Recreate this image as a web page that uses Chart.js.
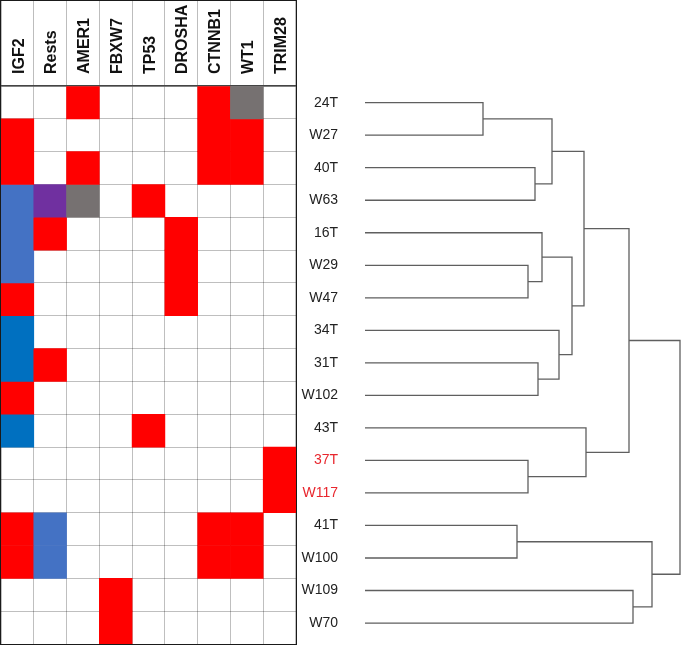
<!DOCTYPE html>
<html>
<head>
<meta charset="utf-8">
<script src="https://cdn.jsdelivr.net/npm/chart.js@4"></script>
<style>
  body { margin: 0; background: #fff; }
  #wrap { position: relative; width: 681px; height: 645px; }
  #heat { position: absolute; left: 0; top: 0; width: 297px; height: 645px; box-sizing: border-box; border: 1.5px solid #1a1a1a; }
  #tree { position: absolute; left: 297px; top: 0; width: 384px; height: 645px; }
</style>
</head>
<body>
<div id="wrap">
  <div id="heat"><canvas id="heatCanvas"></canvas></div>
  <div id="tree"><canvas id="treeCanvas"></canvas></div>
</div>
<script>
/* heatmap des altérations + dendrogramme, deux canvas côte à côte */

const genes = ["IGF2", "Rests", "AMER1", "FBXW7", "TP53", "DROSHA", "CTNNB1", "WT1", "TRIM28"];

const samples = ["24T", "W27", "40T", "W63", "16T", "W29", "W47", "34T", "31T",
  "W102", "43T", "37T", "W117", "41T", "W100", "W109", "W70"];

const redSamples = ["37T", "W117"];

// 0 vide, 1 rouge, 2 bleu, 3 bleu foncé, 4 violet, 5 gris
const cells = [
  [0, 0, 1, 0, 0, 0, 1, 5, 0],
  [1, 0, 0, 0, 0, 0, 1, 1, 0],
  [1, 0, 1, 0, 0, 0, 1, 1, 0],
  [2, 4, 5, 0, 1, 0, 0, 0, 0],
  [2, 1, 0, 0, 0, 1, 0, 0, 0],
  [2, 0, 0, 0, 0, 1, 0, 0, 0],
  [1, 0, 0, 0, 0, 1, 0, 0, 0],
  [3, 0, 0, 0, 0, 0, 0, 0, 0],
  [3, 1, 0, 0, 0, 0, 0, 0, 0],
  [1, 0, 0, 0, 0, 0, 0, 0, 0],
  [3, 0, 0, 0, 1, 0, 0, 0, 0],
  [0, 0, 0, 0, 0, 0, 0, 0, 1],
  [0, 0, 0, 0, 0, 0, 0, 0, 1],
  [1, 2, 0, 0, 0, 0, 1, 1, 0],
  [1, 2, 0, 0, 0, 0, 1, 1, 0],
  [0, 0, 0, 1, 0, 0, 0, 0, 0],
  [0, 0, 0, 1, 0, 0, 0, 0, 0],
];

// linkage: [gauche, droite, hauteur]; ids < 17 = feuilles, puis fusions dans l'ordre
const links = [
  [0, 1, 1.18],
  [2, 3, 1.70],
  [17, 18, 1.87],
  [5, 6, 1.63],
  [4, 20, 1.77],
  [8, 9, 1.73],
  [7, 22, 1.94],
  [21, 23, 2.07],
  [19, 24, 2.19],
  [11, 12, 1.63],
  [10, 26, 2.21],
  [25, 27, 2.64],
  [13, 14, 1.52],
  [15, 16, 2.68],
  [29, 30, 2.87],
  [28, 31, 3.15],
];

const CELL_COLORS = [null, "#ff0000", "#4472c4", "#0070c0", "#7030a0", "#767171"];
const LABEL_RED = "#e8262d";
const FONT = "'Liberation Sans', Arial, sans-serif";

new Chart(document.getElementById("heatCanvas"), {
  type: "bar",
  data: {
    labels: genes,
    datasets: cells.map((row, r) => ({
      label: samples[r],
      data: row.map((c) => (c ? [r, r + 1] : null)),
      backgroundColor: row.map((c) => CELL_COLORS[c] || "transparent"),
      borderWidth: 0,
      barPercentage: 1,
      categoryPercentage: 1,
      grouped: false,
    })),
  },
  options: {
    responsive: true,
    maintainAspectRatio: false,
    animation: false,
    layout: { padding: 0 },
    plugins: { legend: { display: false }, tooltip: { enabled: false } },
    scales: {
      x: {
        position: "top",
        z: 1,
        grid: { offset: true, color: "rgba(0,0,0,0.25)", tickColor: "#bdbdbd", tickLength: 85, lineWidth: 1 },
        border: { color: "#444", width: 1.5 },
        ticks: {
          minRotation: 90,
          maxRotation: 90,
          padding: -73,
          labelOffset: 21,
          color: "#111",
          font: { family: FONT, size: 16, weight: "bold" },
        },
        afterFit: (s) => { s.height = 85; },
      },
      y: {
        min: 0,
        max: samples.length,
        reverse: true,
        z: 1,
        ticks: { display: false, stepSize: 1 },
        grid: { color: "rgba(0,0,0,0.25)", drawTicks: false },
        border: { display: false },
        afterFit: (s) => { s.width = 0; },
      },
    },
  },
});

// positions des noeuds du dendrogramme
const nodeY = samples.map((_, i) => i);
const nodeH = samples.map(() => 0);
const treeSets = links.map(([a, b, h]) => {
  const ya = nodeY[a];
  const yb = nodeY[b];
  const pts = [
    { x: nodeH[a], y: ya },
    { x: h, y: ya },
    { x: h, y: yb },
    { x: nodeH[b], y: yb },
  ];
  nodeY.push((ya + yb) / 2);
  nodeH.push(h);
  return {
    data: pts,
    showLine: true,
    borderColor: "#5f5f5f",
    borderWidth: 1.3,
    pointRadius: 0,
    tension: 0,
  };
});

new Chart(document.getElementById("treeCanvas"), {
  type: "scatter",
  data: { datasets: treeSets },
  options: {
    responsive: true,
    maintainAspectRatio: false,
    animation: false,
    layout: { padding: { top: 86.4, bottom: 5.7, left: 0, right: 0 } },
    plugins: { legend: { display: false }, tooltip: { enabled: false } },
    scales: {
      x: { type: "linear", min: 0, max: 3.16, display: false },
      y: {
        type: "linear",
        min: -0.5,
        max: samples.length - 0.5,
        reverse: true,
        afterBuildTicks: (s) => { s.ticks = samples.map((_, i) => ({ value: i })); },
        afterFit: (s) => {
          s.width = 68;
          s.paddingTop = 0;
          s.paddingBottom = 0;
        },
        ticks: {
          autoSkip: false,
          padding: 19,
          callback: (v, i) => samples[i],
          color: (ctx) => (redSamples.includes(samples[ctx.index]) ? LABEL_RED : "#222"),
          font: { family: FONT, size: 14 },
        },
        grid: { display: false },
        border: { display: false },
      },
    },
  },
});
</script>
</body>
</html>
